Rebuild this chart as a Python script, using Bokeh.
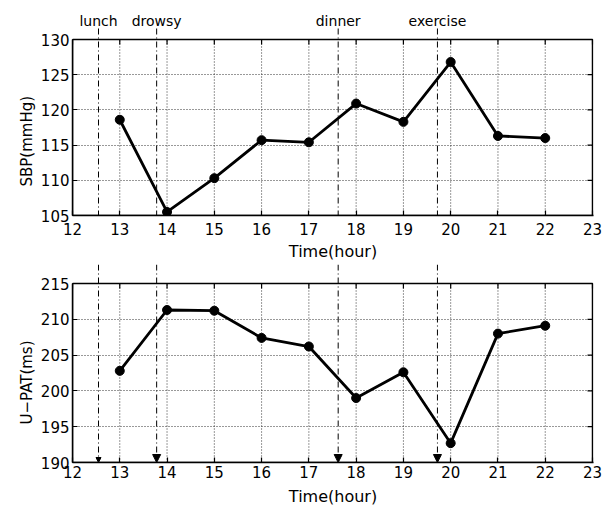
import math
from bokeh.plotting import figure
from bokeh.models import Label, Arrow, NormalHead, FixedTicker, Range1d, Title
from bokeh.layouts import column
from bokeh.embed import file_html
from bokeh.resources import INLINE

# ---- data ----
hours = [13, 14, 15, 16, 17, 18, 19, 20, 21, 22]
sbp = [118.6, 105.5, 110.3, 115.7, 115.4, 120.9, 118.3, 126.8, 116.3, 116.0]
upat = [202.8, 211.3, 211.2, 207.4, 206.2, 199.0, 202.6, 192.7, 208.0, 209.1]
event_names = ["lunch", "drowsy", "dinner", "exercise"]
event_times = [12.55, 13.78, 17.62, 19.72]
x_ticks = list(range(12, 24))
sbp_ticks = [105, 110, 115, 120, 125, 130]
upat_ticks = [190, 195, 200, 205, 210, 215]
x_label = "Time(hour)"
sbp_label = "SBP(mmHg)"
upat_label = "U\u2212PAT(ms)"

FONT = "DejaVu Sans"
DASHDOT = "6 3 1 3"
head_sizes = [5, 8, 8, 8]
BOX_W = 520


def panel(values, yticks, ylabel, box_h, ext_top, b_bottom, tick_standoff, label_standoff, ylab_offset):
    """Axes box of box_h px; the frame reaches ext_top px above the box for event marks."""
    upp_y = (yticks[-1] - yticks[0]) / box_h
    upp_x = (x_ticks[-1] - x_ticks[0]) / BOX_W
    p = figure(frame_width=BOX_W + 1, frame_height=box_h + ext_top,
               x_range=Range1d(x_ticks[0], x_ticks[-1] + upp_x),
               y_range=Range1d(yticks[0], yticks[-1] + ext_top * upp_y),
               output_backend="svg", toolbar_location=None,
               min_border_left=72, min_border_right=15,
               min_border_top=0, min_border_bottom=b_bottom)
    p.background_fill_color = "white"
    p.border_fill_color = "white"
    p.outline_line_color = None

    p.xaxis.ticker = FixedTicker(ticks=x_ticks)
    p.yaxis.ticker = FixedTicker(ticks=yticks)
    p.yaxis.bounds = (yticks[0], yticks[-1])
    for ax in (p.xaxis[0], p.yaxis[0]):
        ax.major_tick_in = 5
        ax.major_tick_out = 0
        ax.minor_tick_line_color = None
        ax.axis_line_width = 1.5
        ax.major_tick_line_width = 1.2
        ax.major_label_text_font = FONT
        ax.major_label_text_font_size = "15px"
        ax.major_label_text_color = "black"
        ax.axis_label_text_font = FONT
        ax.axis_label_text_font_style = "normal"
        ax.axis_label_text_color = "black"
    p.xaxis.major_label_standoff = tick_standoff
    p.yaxis.major_label_standoff = 3
    p.xaxis.axis_label = x_label
    p.xaxis.axis_label_text_font_size = "16px"
    p.xaxis.axis_label_standoff = label_standoff

    # y label as a side title, placed along the axes box
    p.add_layout(Title(text=ylabel, align="left", offset=ylab_offset, standoff=4,
                       text_font=FONT, text_font_size="15px", text_font_style="normal",
                       text_color="black"), "left")

    # dotted grid inside the axes box
    p.xgrid.visible = False
    p.ygrid.grid_line_color = "#333333"
    p.ygrid.grid_line_dash = "1 2"
    p.ygrid.grid_line_width = 1
    p.segment(x0=x_ticks, y0=[yticks[0]] * len(x_ticks), x1=x_ticks, y1=[yticks[-1]] * len(x_ticks),
              line_color="#333333", line_dash="1 2", line_width=1)

    # axes box with inward ticks on top and right
    p.quad(left=x_ticks[0], right=x_ticks[-1], bottom=yticks[0], top=yticks[-1],
           fill_color=None, line_color="black", line_width=1.5)
    p.ray(x=x_ticks, y=[yticks[-1]] * len(x_ticks), length=5, length_units="screen",
          angle=-math.pi / 2, line_color="black", line_width=1.2)
    p.ray(x=[x_ticks[-1]] * len(yticks), y=yticks, length=5, length_units="screen",
          angle=math.pi, line_color="black", line_width=1.2)

    p.line(hours, values, line_color="black", line_width=2.8)
    p.scatter(hours, values, size=9, fill_color="black", line_color="black")
    return p, upp_y


top, t_upp = panel(sbp, sbp_ticks, sbp_label, 176, 39, 49, 7, 4, 29)
bot, b_upp = panel(upat, upat_ticks, upat_label, 179, 19, 46, 3, 6, 38)

for name, t, hs in zip(event_names, event_times, head_sizes):
    # top panel: dash-dot line with the event name above the box
    top.segment(x0=[t], y0=[sbp_ticks[-1] + 11 * t_upp], x1=[t], y1=[sbp_ticks[0]],
                line_color="black", line_width=1, line_dash=DASHDOT)
    top.add_layout(Label(x=t, y=sbp_ticks[-1] + 19 * t_upp, text=name,
                         text_align="center", text_baseline="alphabetic",
                         text_font=FONT, text_font_size="14px", text_color="black"))
    # bottom panel: dash-dot arrow down to the time axis
    bot.add_layout(Arrow(x_start=t, x_end=t,
                         y_start=upat_ticks[-1] + 19 * b_upp, y_end=upat_ticks[0],
                         end=NormalHead(size=hs, fill_color="black", line_color="black", line_width=1),
                         line_color="black", line_width=1, line_dash=DASHDOT))

layout = column(top, bot, spacing=0)
open("out.html", "w").write(file_html(layout, INLINE))
